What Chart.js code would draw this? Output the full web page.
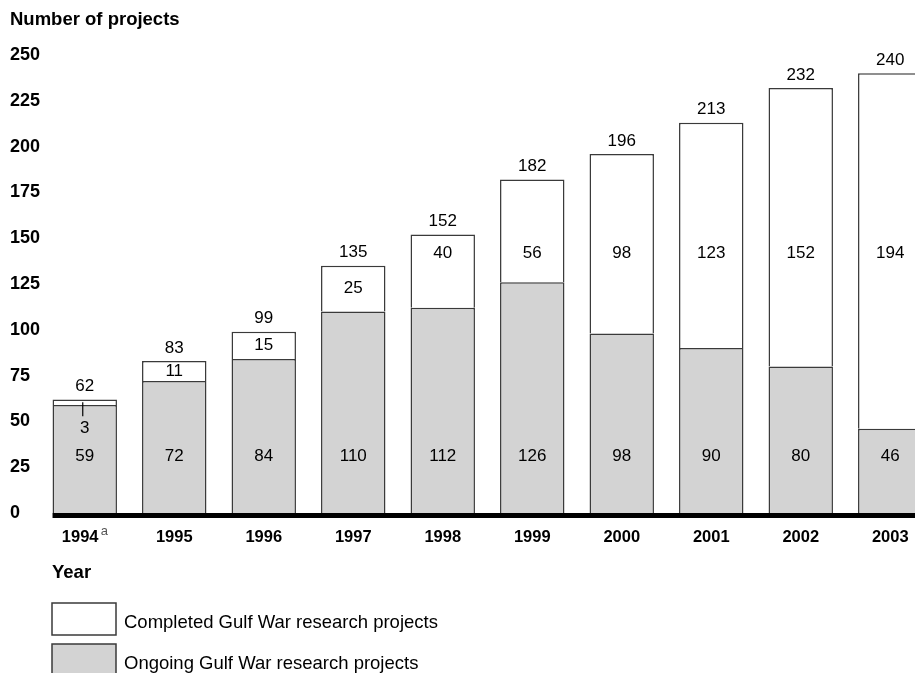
<!DOCTYPE html>
<html>
<head>
<meta charset="utf-8">
<script src="https://cdn.jsdelivr.net/npm/chart.js@4/dist/chart.umd.min.js"></script>
<style>
    html, body { margin: 0; padding: 0; background: #ffffff; }
    #wrap { width: 915px; height: 673px; overflow: hidden; position: relative; }
</style>
</head>
<body>
<div id="wrap">
    <canvas id="projectsChart" width="935" height="673"></canvas>
</div>
<script>
// Gulf War research projects per year
const years = ['1994', '1995', '1996', '1997', '1998', '1999', '2000', '2001', '2002', '2003'];
const ongoing = [59, 72, 84, 110, 112, 126, 98, 90, 80, 46];
const completed = [3, 11, 15, 25, 40, 56, 98, 123, 152, 194];
const yTicks = [0, 25, 50, 75, 100, 125, 150, 175, 200, 225, 250];

const seriesNames = ['Ongoing Gulf War research projects', 'Completed Gulf War research projects'];
const FONT = "'Liberation Sans', Arial, Helvetica, sans-serif";
const EDGE = '#3a3a3a';
const GRAY = '#d3d3d3';

/**
 * Draws the value labels, totals, the heavy x axis line and the legend
 */
const annotations = {
    id: 'annotations',
    afterDatasetsDraw(chart) {
        const ctx = chart.ctx;
        const y = chart.scales.y;
        const area = chart.chartArea;
        const lower = chart.getDatasetMeta(0).data;
        const upper = chart.getDatasetMeta(1).data;

        ctx.save();
        ctx.fillStyle = '#000';
        ctx.textAlign = 'center';
        ctx.textBaseline = 'middle';
        ctx.font = '17px ' + FONT;

        years.forEach(function(year, i) {
            const bar = upper[i];
            const total = ongoing[i] + completed[i];
            const ongoingY = y.getPixelForValue(31);

            // ongoing count, all on one row
            ctx.fillText(String(ongoing[i]), bar.x, ongoingY);

            // completed count
            const segTop = bar.y;
            const segBottom = bar.base;
            if (segBottom - segTop < 16) {
                const labelY = ongoingY - 28;
                ctx.fillText(String(completed[i]), bar.x, labelY);
                ctx.strokeStyle = '#000';
                ctx.lineWidth = 1.2;
                ctx.beginPath();
                ctx.moveTo(bar.x - 2, (segTop + segBottom) / 2);
                ctx.lineTo(bar.x - 2, labelY - 12);
                ctx.stroke();
            } else {
                let labelY = (segTop + segBottom) / 2;
                const rowY = y.getPixelForValue(142);
                if (rowY - segTop >= 14 && segBottom - rowY >= 14) {
                    labelY = rowY;
                }
                ctx.fillText(String(completed[i]), bar.x, labelY);
            }

            // total above the bar
            ctx.fillText(String(total), bar.x, segTop - 13);
        });

        // heavy x axis line starting at the first bar
        const first = lower[0];
        ctx.fillStyle = '#000';
        ctx.fillRect(first.x - first.width / 2, area.bottom, chart.width, 5);

        // superscript on the first year
        ctx.font = '13px ' + FONT;
        ctx.textAlign = 'left';
        ctx.fillStyle = '#555';
        ctx.fillText('a', first.x + 16, 531);

        // titles
        ctx.fillStyle = '#000';
        ctx.textBaseline = 'alphabetic';
        ctx.font = 'bold 18.5px ' + FONT;
        ctx.fillText('Number of projects', 10, 25);
        ctx.fillText('Year', 52, 578);

        // legend, completed first
        const items = [
            { name: seriesNames[1], fill: '#ffffff', top: 603 },
            { name: seriesNames[0], fill: GRAY, top: 644 }
        ];
        ctx.font = '18.5px ' + FONT;
        items.forEach(function(item) {
            ctx.fillStyle = item.fill;
            ctx.fillRect(52, item.top, 64, 32);
            ctx.strokeStyle = EDGE;
            ctx.lineWidth = 1.5;
            ctx.strokeRect(52, item.top, 64, 32);
            ctx.fillStyle = '#000';
            ctx.fillText(item.name, 124, item.top + 25);
        });
        ctx.restore();
    }
};

new Chart(document.getElementById('projectsChart').getContext('2d'), {
    type: 'bar',
    data: {
        labels: years,
        datasets: [
            {
                label: seriesNames[0],
                data: ongoing,
                backgroundColor: GRAY,
                borderColor: EDGE,
                borderWidth: 1.5,
                barPercentage: 0.72,
                categoryPercentage: 1.0
            },
            {
                label: seriesNames[1],
                data: completed,
                backgroundColor: '#ffffff',
                borderColor: EDGE,
                borderWidth: 1.5,
                barPercentage: 0.72,
                categoryPercentage: 1.0
            }
        ]
    },
    options: {
        responsive: false,
        animation: false,
        layout: {
            padding: { top: 55, bottom: 120, left: 10, right: 0 }
        },
        plugins: {
            legend: { display: false },
            tooltip: { enabled: false }
        },
        scales: {
            x: {
                stacked: true,
                grid: { display: false, drawTicks: false },
                border: { display: false },
                ticks: {
                    color: '#000',
                    padding: 15,
                    font: { family: FONT, size: 16.5, weight: 'bold' },
                    // leave room for the footnote mark on the first year
                    callback: function(value, index) {
                        return index === 0 ? years[index] + '  ' : years[index];
                    }
                },
                afterFit: function(scale) { scale.height = 40; }
            },
            y: {
                stacked: true,
                min: 0,
                max: 250,
                grid: { display: false, drawTicks: false },
                border: { display: false },
                afterBuildTicks: function(scale) {
                    scale.ticks = yTicks.map(v => ({ value: v }));
                },
                ticks: {
                    color: '#000',
                    crossAlign: 'far',
                    font: { family: FONT, size: 18, weight: 'bold' }
                },
                afterFit: function(scale) { scale.width = 30; }
            }
        }
    },
    plugins: [annotations]
});
</script>
</body>
</html>
